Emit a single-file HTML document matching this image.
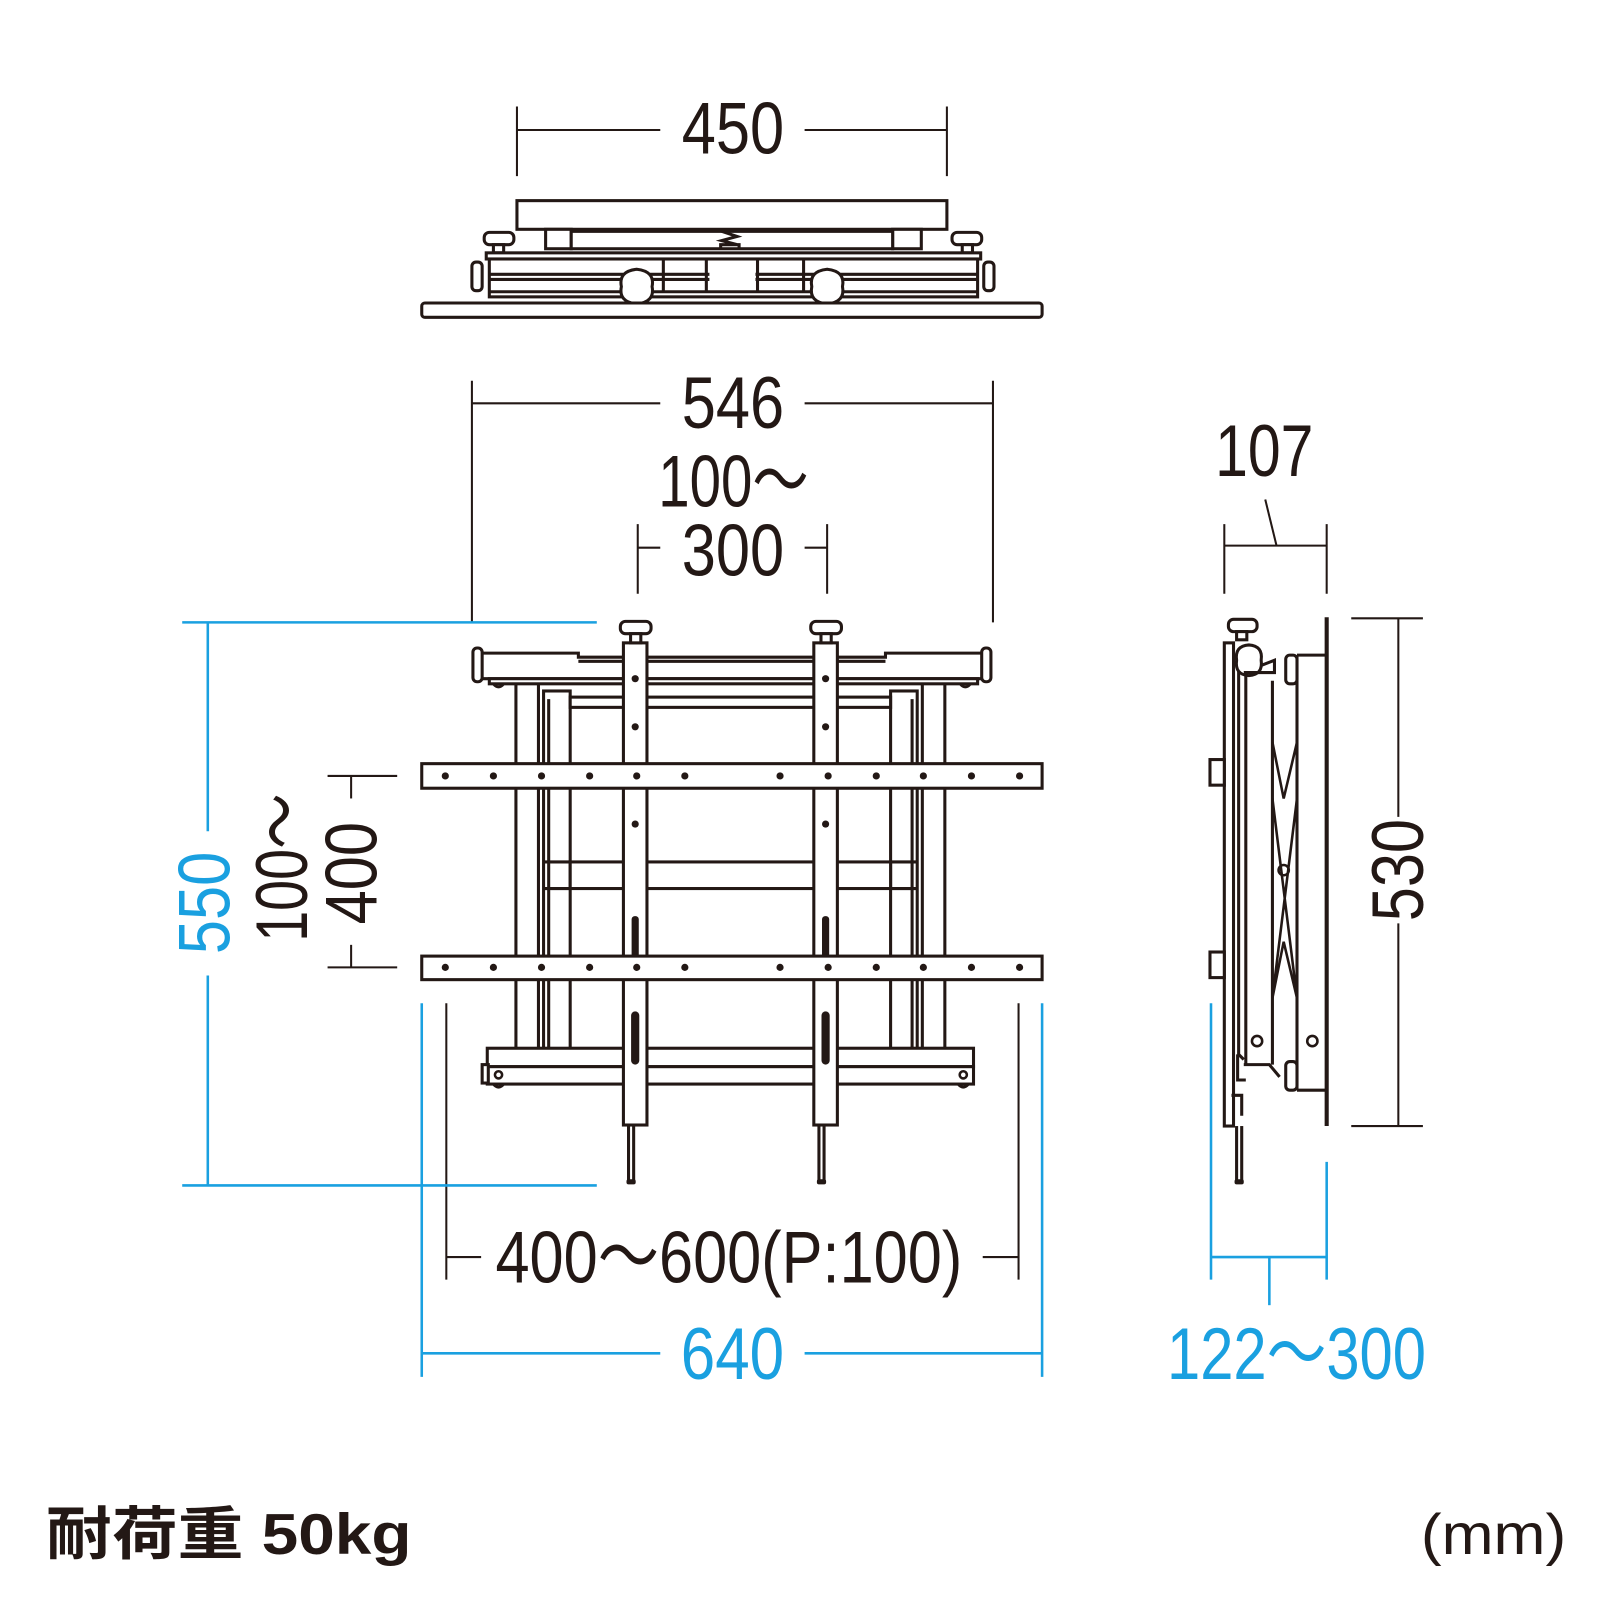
<!DOCTYPE html>
<html><head><meta charset="utf-8"><style>
html,body{margin:0;padding:0;background:#fff;}
svg{display:block;}
.k{stroke:#231815;stroke-width:3;fill:none;}
.kf{stroke:#231815;stroke-width:3;fill:#fff;}
.b{stroke:#1aa0e0;stroke-width:2.5;fill:none;}
.t{font-family:"Liberation Sans",sans-serif;font-size:72px;fill:#231815;}
.tb{font-family:"Liberation Sans",sans-serif;font-size:72px;fill:#1aa0e0;}
.d{fill:#231815;}
</style></head><body>
<svg width="1600" height="1600" viewBox="0 0 1563 1563" xmlns="http://www.w3.org/2000/svg">
<g>
<rect class="kf" x="505" y="196" width="420" height="28"/>
<rect class="kf" x="533" y="224" width="25" height="19"/>
<rect class="kf" x="872" y="224" width="28" height="19"/>
<rect class="kf" x="558" y="226" width="314" height="17"/>
<path class="k" d="M705 226 l15 5 l-15 4 l15 4 M704 243 v-4 h18 v4"/>
<rect class="kf" x="473" y="227" width="29" height="12" rx="5"/>
<rect class="kf" x="482" y="239" width="10" height="8"/>
<rect class="kf" x="930" y="227" width="29" height="12" rx="5"/>
<rect class="kf" x="940" y="239" width="10" height="8"/>
<rect class="kf" x="475" y="247" width="483" height="6"/>
<rect class="kf" x="478" y="253" width="477" height="37"/>
<line class="k" x1="478" y1="268" x2="693" y2="268"/>
<line class="k" x1="478" y1="273" x2="693" y2="273"/>
<line class="k" x1="738" y1="268" x2="955" y2="268"/>
<line class="k" x1="738" y1="273" x2="955" y2="273"/>
<line class="k" x1="478" y1="285" x2="955" y2="285"/>
<line class="k" x1="690" y1="253" x2="690" y2="285"/>
<line class="k" x1="740" y1="253" x2="740" y2="285"/>
<line class="k" x1="648" y1="253" x2="648" y2="285"/>
<line class="k" x1="785" y1="253" x2="785" y2="285"/>
<rect class="kf" x="461" y="256" width="10" height="28" rx="4"/>
<rect class="kf" x="961" y="256" width="10" height="28" rx="4"/>
<path class="kf" d="M607 280 q-3 -15 15 -17 q18 2 15 17 q3 15 -15 17 q-18 -2 -15 -17z"/>
<path class="kf" d="M793 280 q-3 -15 15 -17 q18 2 15 17 q3 15 -15 17 q-18 -2 -15 -17z"/>
<rect class="kf" x="412" y="296" width="606" height="14" rx="3"/>
</g>

<g>
<rect class="kf" x="504" y="667" width="22" height="360"/>
<rect class="kf" x="531" y="675" width="26" height="352"/>
<rect class="kf" x="870" y="675" width="26" height="352"/>
<rect class="kf" x="901" y="667" width="22" height="360"/>
<line class="k" x1="536" y1="683" x2="536" y2="1027"/>
<line class="k" x1="891" y1="683" x2="891" y2="1027"/>
<rect class="kf" x="557" y="681" width="313" height="10"/>
<rect class="kf" x="557" y="842" width="313" height="26"/>
<line class="k" x1="531" y1="842" x2="557" y2="842"/>
<line class="k" x1="531" y1="868" x2="557" y2="868"/>
<line class="k" x1="870" y1="842" x2="896" y2="842"/>
<line class="k" x1="870" y1="868" x2="896" y2="868"/>
<path class="kf" d="M470 638 H565 V642 H865 V638 H960 V663 H470 Z"/>
<line class="k" x1="565" y1="646" x2="865" y2="646"/>
<rect class="kf" x="478" y="663" width="477" height="5"/>
<rect class="kf" x="462" y="633" width="9" height="33" rx="4"/>
<rect class="kf" x="959" y="633" width="9" height="33" rx="4"/>
<path class="k" d="M482 668 q5 6 10 0 M938 668 q5 6 10 0"/>
<rect class="kf" x="476" y="1024" width="475" height="18"/>
<rect class="kf" x="476" y="1042" width="475" height="17"/>
<rect class="kf" x="471" y="1040" width="6" height="18"/>
<circle class="k" cx="487" cy="1050" r="3.5" style="stroke-width:2.5"/>
<circle class="k" cx="941" cy="1050" r="3.5" style="stroke-width:2.5"/>
<path class="k" d="M482 1059 q5 6 10 0 M936 1059 q5 6 10 0"/>
<g id="sl">
<rect class="kf" x="609" y="628" width="23" height="471"/>
<rect class="kf" x="606" y="607" width="30" height="12" rx="5"/>
<rect class="kf" x="616" y="619" width="10" height="9"/>
<line class="k" x1="614" y1="1099" x2="614" y2="1155"/>
<line class="k" x1="619" y1="1099" x2="619" y2="1155"/>
<rect class="d" x="612" y="1152" width="9" height="5" rx="2"/>
<circle class="d" cx="620.5" cy="663" r="3.5"/>
<circle class="d" cx="620.5" cy="710" r="3.5"/>
<circle class="d" cx="620.5" cy="805" r="3.5"/>
<rect class="d" x="617" y="895" width="7" height="40" rx="3"/>
<rect class="d" x="616.5" y="988" width="8" height="52" rx="4"/>
</g>
<use href="#sl" x="186"/>
<rect class="kf" x="412" y="746" width="606" height="24"/>
<rect class="kf" x="412" y="934" width="606" height="23"/>
<g class="d">
<circle cx="435" cy="758" r="3.5"/><circle cx="482" cy="758" r="3.5"/><circle cx="529" cy="758" r="3.5"/><circle cx="576" cy="758" r="3.5"/><circle cx="622" cy="758" r="3.5"/><circle cx="669" cy="758" r="3.5"/><circle cx="762" cy="758" r="3.5"/><circle cx="809" cy="758" r="3.5"/><circle cx="856" cy="758" r="3.5"/><circle cx="902" cy="758" r="3.5"/><circle cx="949" cy="758" r="3.5"/><circle cx="996" cy="758" r="3.5"/>
<circle cx="435" cy="945" r="3.5"/><circle cx="482" cy="945" r="3.5"/><circle cx="529" cy="945" r="3.5"/><circle cx="576" cy="945" r="3.5"/><circle cx="622" cy="945" r="3.5"/><circle cx="669" cy="945" r="3.5"/><circle cx="762" cy="945" r="3.5"/><circle cx="809" cy="945" r="3.5"/><circle cx="856" cy="945" r="3.5"/><circle cx="902" cy="945" r="3.5"/><circle cx="949" cy="945" r="3.5"/><circle cx="996" cy="945" r="3.5"/>
</g>
</g>

<g>
<rect class="kf" x="1196" y="628" width="9" height="472"/>
<rect class="kf" x="1182" y="742" width="14" height="25"/>
<rect class="kf" x="1182" y="930" width="14" height="25"/>
<line class="k" x1="1208" y1="1100" x2="1208" y2="1155"/>
<line class="k" x1="1213" y1="1100" x2="1213" y2="1155"/>
<rect class="d" x="1206" y="1152" width="9" height="5" rx="2"/>
<path class="k" d="M1210 655 V1030 l5 5"/>
<line class="k" x1="1217" y1="660" x2="1217" y2="1040"/>
<line class="k" x1="1243" y1="665" x2="1243" y2="1040"/>
<line class="k" x1="1267" y1="640" x2="1267" y2="1065"/>
<path class="k" d="M1243 725 L1254 780 L1267 725 M1243 780 L1267 975 M1267 780 L1243 975 M1243 975 L1254 920 L1267 975" style="stroke-width:2.5"/>
<circle class="k" cx="1254" cy="850" r="5" style="stroke-width:2.5"/>
<circle class="k" cx="1228" cy="1017" r="5" style="stroke-width:2.5"/>
<circle class="k" cx="1282" cy="1017" r="5" style="stroke-width:2.5"/>
<rect class="kf" x="1200" y="605" width="28" height="12" rx="5"/>
<rect class="kf" x="1208" y="617" width="10" height="8"/>
<path class="kf" d="M1208 645 q-2 -14 12 -15 q14 1 12 15 q2 14 -12 15 q-14 -1 -12 -15z"/>
<path class="k" d="M1232 650 l13 -5 v12 h-30"/>
<rect class="kf" x="1256" y="640" width="11" height="28" rx="4"/>
<rect class="kf" x="1256" y="1037" width="11" height="28" rx="4"/>
<path class="k" d="M1215 1040 h25 l10 12 M1209 1030 v25 h8 M1203 1070 h10 v20"/>
<line class="k" x1="1267" y1="640" x2="1296" y2="640"/>
<line class="k" x1="1267" y1="1065" x2="1296" y2="1065"/>
<line x1="1296" y1="603" x2="1296" y2="1100" stroke="#231815" stroke-width="4"/>
</g>

<g class="k" style="stroke-width:2">
<line x1="505" y1="104" x2="505" y2="172"/><line x1="925" y1="104" x2="925" y2="172"/>
<line x1="505" y1="127" x2="645" y2="127"/><line x1="786" y1="127" x2="925" y2="127"/>
<line x1="461" y1="372" x2="461" y2="608"/><line x1="970" y1="372" x2="970" y2="608"/>
<line x1="461" y1="394" x2="645" y2="394"/><line x1="786" y1="394" x2="970" y2="394"/>
<line x1="623" y1="512" x2="623" y2="580"/><line x1="808" y1="512" x2="808" y2="580"/>
<line x1="623" y1="535" x2="645" y2="535"/><line x1="786" y1="535" x2="808" y2="535"/>
<line x1="320" y1="758" x2="388" y2="758"/><line x1="320" y1="945" x2="388" y2="945"/>
<line x1="343" y1="758" x2="343" y2="780"/><line x1="343" y1="923" x2="343" y2="945"/>
<line x1="436" y1="980" x2="436" y2="1250"/><line x1="995" y1="980" x2="995" y2="1250"/>
<line x1="436" y1="1228" x2="470" y2="1228"/><line x1="960" y1="1228" x2="995" y2="1228"/>
<line x1="1196" y1="512" x2="1196" y2="580"/><line x1="1296" y1="512" x2="1296" y2="580"/>
<line x1="1196" y1="533" x2="1296" y2="533"/><line x1="1236" y1="488" x2="1247" y2="533"/>
<line x1="1320" y1="604" x2="1390" y2="604"/><line x1="1320" y1="1100" x2="1390" y2="1100"/>
<line x1="1366" y1="604" x2="1366" y2="798"/><line x1="1366" y1="902" x2="1366" y2="1100"/>
</g>
<g class="b">
<line x1="178" y1="608" x2="583" y2="608"/><line x1="178" y1="1158" x2="583" y2="1158"/>
<line x1="203" y1="608" x2="203" y2="812"/><line x1="203" y1="953" x2="203" y2="1158"/>
<line x1="412" y1="980" x2="412" y2="1345"/><line x1="1018" y1="980" x2="1018" y2="1345"/>
<line x1="412" y1="1322" x2="645" y2="1322"/><line x1="786" y1="1322" x2="1018" y2="1322"/>
<line x1="1183" y1="980" x2="1183" y2="1250"/><line x1="1296" y1="1135" x2="1296" y2="1250"/>
<line x1="1183" y1="1228" x2="1296" y2="1228"/><line x1="1240" y1="1228" x2="1240" y2="1275"/>
</g>

<text class="t" x="666" y="150" textLength="100" lengthAdjust="spacingAndGlyphs">450</text>
<text class="t" x="666" y="418" textLength="100" lengthAdjust="spacingAndGlyphs">546</text>
<text class="t" x="643" y="495" textLength="147" lengthAdjust="spacingAndGlyphs">100～</text>
<text class="t" x="666" y="562" textLength="100" lengthAdjust="spacingAndGlyphs">300</text>
<text class="t" x="1187" y="465" textLength="96" lengthAdjust="spacingAndGlyphs">107</text>
<text class="t" x="484" y="1253" textLength="456" lengthAdjust="spacingAndGlyphs">400～600(P:100)</text>
<text class="tb" x="665" y="1347" textLength="101" lengthAdjust="spacingAndGlyphs">640</text>
<text class="tb" x="1140" y="1347" textLength="253" lengthAdjust="spacingAndGlyphs">122～300</text>
<text class="tb" transform="translate(224,932) rotate(-90)" x="0" y="0" textLength="100" lengthAdjust="spacingAndGlyphs">550</text>
<text class="t" transform="translate(300,920) rotate(-90)" x="0" y="0" textLength="145" lengthAdjust="spacingAndGlyphs">100～</text>
<text class="t" transform="translate(368,903) rotate(-90)" x="0" y="0" textLength="100" lengthAdjust="spacingAndGlyphs">400</text>
<text class="t" transform="translate(1390,900) rotate(-90)" x="0" y="0" textLength="100" lengthAdjust="spacingAndGlyphs">530</text>
<text x="45" y="1518" style="font-family:'Liberation Sans','Noto Sans CJK JP',sans-serif;font-weight:bold;font-size:56px;fill:#231815" textLength="357" lengthAdjust="spacingAndGlyphs">耐荷重 50kg</text>
<text x="1388" y="1518" style="font-family:'Liberation Sans',sans-serif;font-size:56px;fill:#231815" textLength="142" lengthAdjust="spacingAndGlyphs">(mm)</text>
</svg>
</body></html>
